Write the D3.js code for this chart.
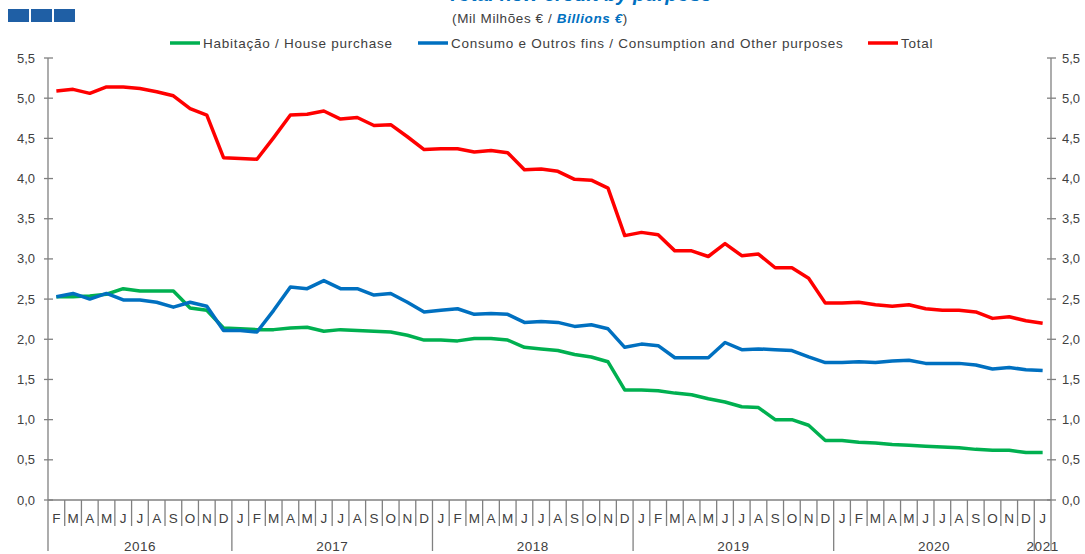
<!DOCTYPE html>
<html>
<head>
<meta charset="utf-8">
<script src="https://cdn.jsdelivr.net/npm/d3@7"></script>
<style>
  body { margin: 0; background: #fff; }
  text { font-family: "Liberation Sans", Arial, sans-serif; }
</style>
</head>
<body>
<svg width="1085" height="554"></svg>
<script>
// month labels, Feb 2016 .. Jan 2021
const monthLabels = [
  "F","M","A","M","J","J","A","S","O","N","D",
  "J","F","M","A","M","J","J","A","S","O","N","D",
  "J","F","M","A","M","J","J","A","S","O","N","D",
  "J","F","M","A","M","J","J","A","S","O","N","D",
  "J","F","M","A","M","J","J","A","S","O","N","D",
  "J"
];
const years = ["2016", "2017", "2018", "2019", "2020", "2021"];
const monthsPerYear = [11, 12, 12, 12, 12, 1];

const housing = [
  2.53, 2.53, 2.54, 2.56, 2.63, 2.60, 2.60, 2.60, 2.39, 2.36, 2.14,
  2.13, 2.12, 2.12, 2.14, 2.15, 2.10, 2.12, 2.11, 2.10, 2.09, 2.05, 1.99,
  1.99, 1.98, 2.01, 2.01, 1.99, 1.90, 1.88, 1.86, 1.81, 1.78, 1.72, 1.37,
  1.37, 1.36, 1.33, 1.31, 1.26, 1.22, 1.16, 1.15, 1.00, 1.00, 0.93, 0.74,
  0.74, 0.72, 0.71, 0.69, 0.68, 0.67, 0.66, 0.65, 0.63, 0.62, 0.62, 0.59,
  0.59
];
const consumption = [
  2.53, 2.57, 2.50, 2.57, 2.49, 2.49, 2.46, 2.40, 2.46, 2.41, 2.11,
  2.11, 2.09, 2.36, 2.65, 2.63, 2.73, 2.63, 2.63, 2.55, 2.57, 2.46, 2.34,
  2.36, 2.38, 2.31, 2.32, 2.31, 2.21, 2.22, 2.21, 2.16, 2.18, 2.13, 1.90,
  1.94, 1.92, 1.77, 1.77, 1.77, 1.96, 1.87, 1.88, 1.87, 1.86, 1.78, 1.71,
  1.71, 1.72, 1.71, 1.73, 1.74, 1.70, 1.70, 1.70, 1.68, 1.63, 1.65, 1.62,
  1.61
];
const total = [
  5.09, 5.11, 5.06, 5.14, 5.14, 5.12, 5.08, 5.03, 4.87, 4.79, 4.26,
  4.25, 4.24, 4.51, 4.79, 4.80, 4.84, 4.74, 4.76, 4.66, 4.67, 4.52, 4.36,
  4.37, 4.37, 4.33, 4.35, 4.32, 4.11, 4.12, 4.09, 3.99, 3.98, 3.88, 3.29,
  3.33, 3.30, 3.10, 3.10, 3.03, 3.19, 3.04, 3.06, 2.89, 2.89, 2.76, 2.45,
  2.45, 2.46, 2.43, 2.41, 2.43, 2.38, 2.36, 2.36, 2.34, 2.26, 2.28, 2.23,
  2.20
];
const yTicks = [0, 0.5, 1, 1.5, 2, 2.5, 3, 3.5, 4, 4.5, 5, 5.5];

const series = [
  { name: "Habitação / House purchase", values: housing, color: "#00b050", lx: 170 },
  { name: "Consumo e Outros fins / Consumption and Other purposes", values: consumption, color: "#0070c0", lx: 418 },
  { name: "Total", values: total, color: "#ff0000", lx: 868 }
];

const svg = d3.select("svg");
const plotLeft = 48, plotRight = 1051, plotTop = 58, plotBottom = 500;
const axisColor = "#808080";
const textColor = "#404040";

const x = d3.scaleBand().domain(d3.range(monthLabels.length)).range([plotLeft, plotRight]);
const y = d3.scaleLinear().domain([0, 5.5]).range([plotBottom, plotTop]);
const fmt = v => d3.format(".1f")(v).replace(".", ",");

// logo
svg.append("g").selectAll("rect").data([0, 1, 2]).join("rect")
  .attr("x", d => 8 + d * 23).attr("y", 9)
  .attr("width", 21).attr("height", 13)
  .attr("fill", "#1f5fa5");

// title, cut at the top edge as in the source image
svg.append("text")
  .attr("x", 712).attr("y", 1)
  .attr("text-anchor", "end")
  .attr("font-size", 20).attr("font-weight", "bold").attr("font-style", "italic")
  .attr("fill", "#0070c0")
  .text("Total new credit by purpose");

const sub = svg.append("text")
  .attr("x", 540).attr("y", 23)
  .attr("text-anchor", "middle")
  .attr("font-size", 13.5)
  .attr("letter-spacing", 0.6)
  .attr("fill", textColor);
sub.append("tspan").text("(Mil Milhões € / ");
sub.append("tspan").attr("fill", "#0070c0").attr("font-weight", "bold").attr("font-style", "italic").text("Billions €");
sub.append("tspan").text(")");

// legend
const legend = svg.append("g").selectAll("g").data(series).join("g")
  .attr("transform", d => `translate(${d.lx},43)`);
legend.append("line")
  .attr("x1", 0).attr("x2", 30)
  .attr("stroke", d => d.color).attr("stroke-width", 3.5);
legend.append("text")
  .attr("x", 33).attr("y", 5)
  .attr("font-size", 13.5).attr("letter-spacing", 0.75).attr("fill", textColor)
  .text(d => d.name);

// vertical axes
const axes = svg.append("g").attr("stroke", axisColor).attr("stroke-width", 1.3);
[plotLeft, plotRight].forEach(ax => {
  axes.append("line").attr("x1", ax).attr("x2", ax).attr("y1", plotTop).attr("y2", 551);
  axes.selectAll(null).data(yTicks).join("line")
    .attr("x1", ax - 4).attr("x2", ax + 5)
    .attr("y1", d => y(d)).attr("y2", d => y(d));
});
svg.append("g").selectAll("text").data(yTicks).join("text")
  .attr("x", plotLeft - 13).attr("y", d => y(d) + 4.5)
  .attr("text-anchor", "end").attr("font-size", 13).attr("fill", textColor)
  .text(fmt);
svg.append("g").selectAll("text").data(yTicks).join("text")
  .attr("x", plotRight + 11).attr("y", d => y(d) + 4.5)
  .attr("font-size", 13).attr("fill", textColor)
  .text(fmt);

// category axis
axes.append("line").attr("x1", plotLeft).attr("x2", plotRight).attr("y1", plotBottom).attr("y2", plotBottom);
const yearStarts = monthsPerYear.map((n, i) => d3.sum(monthsPerYear.slice(0, i)));
axes.selectAll(null).data(d3.range(1, monthLabels.length)).join("line")
  .attr("x1", d => x(d)).attr("x2", d => x(d))
  .attr("y1", plotBottom).attr("y2", d => yearStarts.includes(d) ? 551 : 526);
svg.append("g").selectAll("text").data(monthLabels).join("text")
  .attr("x", (d, i) => x(i) + x.bandwidth() / 2).attr("y", 523)
  .attr("text-anchor", "middle").attr("font-size", 13.5).attr("fill", textColor)
  .text(d => d);
svg.append("g").selectAll("text").data(years).join("text")
  .attr("x", (d, i) => (x(yearStarts[i]) + x(yearStarts[i] + monthsPerYear[i] - 1) + x.bandwidth()) / 2)
  .attr("y", 551)
  .attr("text-anchor", "middle").attr("font-size", 13.5).attr("letter-spacing", 0.5).attr("fill", textColor)
  .text(d => d);

// lines
const line = d3.line()
  .x((d, i) => x(i) + x.bandwidth() / 2)
  .y(d => y(d));
svg.append("g").selectAll("path").data(series).join("path")
  .attr("d", d => line(d.values))
  .attr("fill", "none")
  .attr("stroke", d => d.color)
  .attr("stroke-width", 3.5)
  .attr("stroke-linejoin", "round");
</script>
</body>
</html>
